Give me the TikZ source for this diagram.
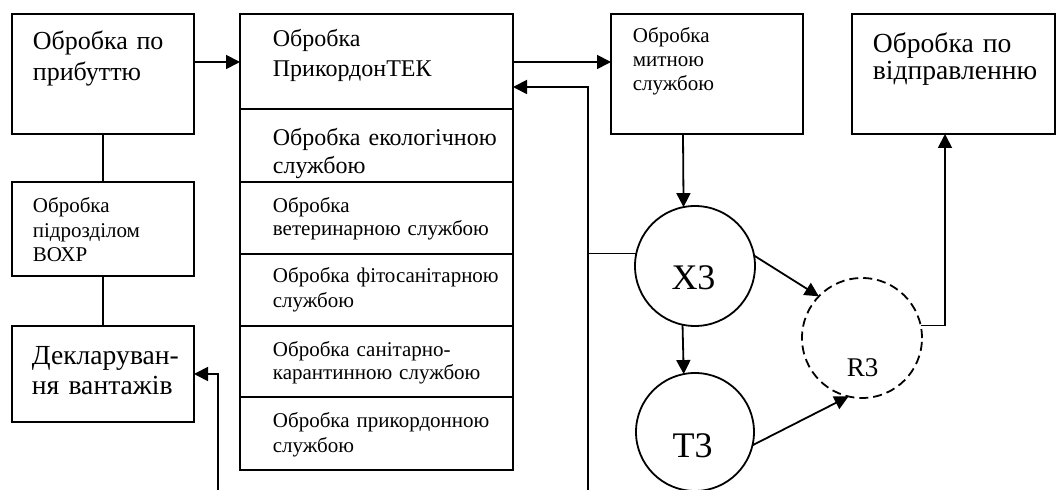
\documentclass[tikz,border=0pt]{standalone}
\usepackage{fontspec}
\setmainfont{Liberation Serif}
\usetikzlibrary{arrows.meta}

\begin{document}
\begin{tikzpicture}[x=0.5pt, y=-0.5pt,
  line width=0.9pt,
  box/.style={draw, rectangle, anchor=north west, inner sep=0pt, outer sep=0pt},
  ring/.style={draw, circle, inner sep=0pt, outer sep=0pt},
  txt/.style={anchor=base west, inner sep=0pt, align=left, text width=100pt},
  big/.style={font=\fontsize{13}{#1}\selectfont},
  large/.style={font=\fontsize{13.8}{#1}\selectfont},
  small/.style={font=\fontsize{10.5}{#1}\selectfont},
  mid/.style={font=\fontsize{12}{#1}\selectfont},
  tag/.style={inner sep=0pt, anchor=center},
  arr/.style={-{Triangle[length=7pt,width=7pt]}}]

\useasboundingbox (0,0) rectangle (1056,490);

% boxes
\node[box, minimum width=91pt, minimum height=60pt] (A) at (12,14) {};
\node[box, minimum width=91pt, minimum height=47pt] (C) at (12,182) {};
\node[box, minimum width=91pt, minimum height=48pt] (D) at (12,326) {};

\node[box, minimum width=136.5pt, minimum height=47.5pt] (B1) at (240,14) {};
\node[box, minimum width=136.5pt, minimum height=36.5pt] (B2) at (240,109) {};
\node[box, minimum width=136.5pt, minimum height=36pt]   (B3) at (240,182) {};
\node[box, minimum width=136.5pt, minimum height=36pt]   (B4) at (240,254) {};
\node[box, minimum width=136.5pt, minimum height=35.5pt] (B5) at (240,326) {};
\node[box, minimum width=136.5pt, minimum height=36.5pt] (B6) at (240,397) {};

\node[box, minimum width=96pt, minimum height=60pt] (M) at (611,14) {};
\node[box, minimum width=101.5pt, minimum height=60pt] (E) at (852,14) {};

% box texts
\node[txt, big=15.5pt] (tA) at (32,50) {Обробка по\\прибуттю};
\node[txt, small=12.25pt] (tC) at (32,213) {Обробка\\підрозділом\\ВОХР};
\node[txt, large=15pt] (tD) at (31,365) {Декларуван-\\ня вантажів};

\node[txt, mid=15pt, text width=130pt] (tB1) at (272,47) {Обробка\\ПрикордонТЕК};
\node[txt, mid=14pt, text width=130pt] (tB2) at (272,146) {Обробка екологічною\\службою};
\node[txt, small=11.5pt, text width=130pt] (tB3) at (272,213) {Обробка\\ветеринарною службою};
\node[txt, small=12.5pt, text width=130pt] (tB4) at (272,283) {Обробка фітосанітарною\\службою};
\node[txt, small=11.5pt, text width=130pt] (tB5) at (272,357) {Обробка санітарно-\\карантинною службою};
\node[txt, small=12.5pt, text width=130pt] (tB6) at (272,428) {Обробка прикордонною\\службою};

\node[txt, small=12pt] (tM) at (632,43) {Обробка\\митною\\службою};
\node[txt, large=13.5pt] (tE) at (872,53) {Обробка по\\відправленню};

% circles
\node[ring, minimum size=60pt] (X3) at (695,266) {};
\node[ring, minimum size=59pt] (T3) at (695,432) {};
\node[ring, dashed, dash pattern=on 4.5pt off 2.5pt, minimum size=60pt] (R3) at (862,338) {};

\node[tag, font=\fontsize{18}{18}\selectfont] (lX3) at (693.5,277.5) {X3};
\node[tag, font=\fontsize{18}{18}\selectfont] (lT3) at (692.5,446) {T3};
\node[tag, font=\fontsize{13.5}{13.5}\selectfont] (lR3) at (862.5,367.5) {R3};

% helper points
\coordinate (r1) at (0,62);
\coordinate (fbtop) at (588,87);
\coordinate (fbbot) at (588,490);
\coordinate (dbot) at (218,490);
\coordinate (mx) at (683,0);
\coordinate (ex) at (945,0);

% connectors
\draw (A.south) -- (C.north);
\draw (C.south) -- (D.north);
\draw[arr] (A.east |- r1) -- (B1.west |- r1);
\draw[arr] (B1.east |- r1) -- (M.west |- r1);
\draw[arr] (fbbot) -- (fbtop) -- (B1.east |- fbtop);
\draw (X3.168.5) -- (X3.168.5 -| fbtop);
\draw[arr] (dbot) |- (D.east);
\draw[arr] (M.south -| mx) -- (X3.101.5);
\draw[arr] (X3.258.5) -- (T3.101.7);
\draw[arr] (X3.10) -- (R3.136);
\draw[arr] (T3.-13) -- (R3.257);
\draw[arr] (R3.12) -| (E.south -| ex);

\end{tikzpicture}
\end{document}
